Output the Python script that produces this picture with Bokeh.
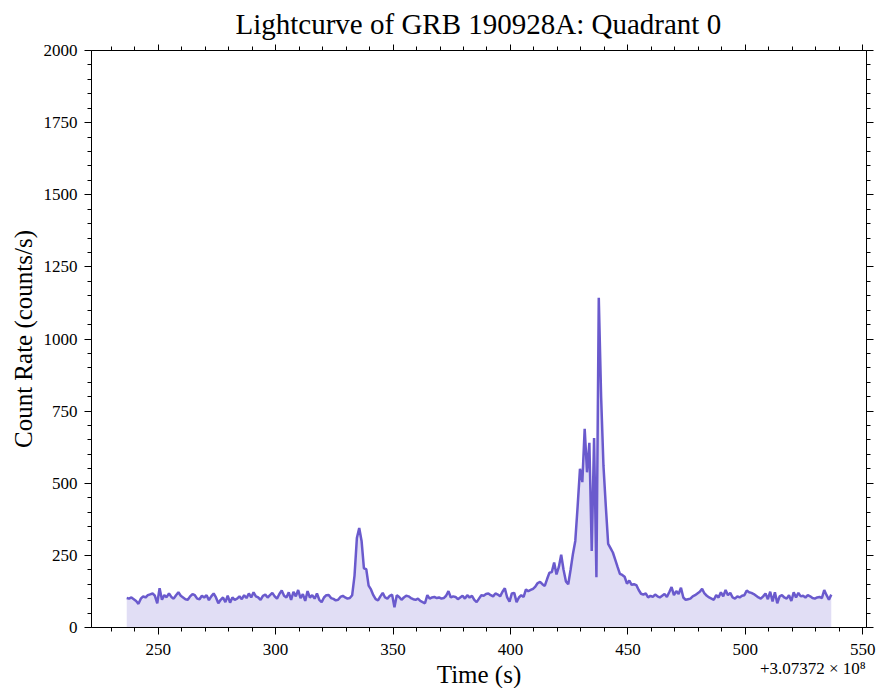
import numpy as np
from bokeh.plotting import figure
from bokeh.models import (LinearAxis, SingleIntervalTicker, Range1d, Label, ColumnDataSource,
                          CustomJSTickFormatter)
from bokeh.embed import file_html
from bokeh.resources import INLINE

# ---- data (time offsets from 3.07372e8 s, 1 s bins) ----
TIME_OFFSET = 3.07372e8
TIME_START = 236.6
BIN_WIDTH = 1.0
RATE = [
    102, 100, 104, 98, 92, 82, 100, 108, 104, 112,
    115, 118, 110, 84, 136, 96, 112, 105, 118, 106,
    100, 112, 122, 110, 104, 98, 96, 108, 116, 112,
    100, 98, 110, 104, 112, 95, 108, 118, 104, 84,
    96, 104, 88, 110, 86, 104, 96, 100, 108, 98,
    112, 102, 118, 104, 122, 108, 104, 96, 110, 114,
    104, 112, 120, 108, 100, 116, 128, 110, 104, 122,
    96, 124, 108, 130, 102, 116, 92, 126, 104, 112,
    100, 118, 96, 88, 104, 112, 113, 102, 99, 94,
    96, 106, 110, 104, 100, 102, 112, 180, 310, 345,
    300, 205, 202, 145, 132, 112, 98, 94, 108, 120,
    104, 100, 110, 114, 70, 112, 106, 96, 104, 110,
    108, 102, 98, 96, 100, 92, 88, 84, 112, 100,
    104, 106, 102, 104, 100, 102, 110, 126, 104, 108,
    106, 98, 104, 110, 100, 112, 104, 110, 96, 88,
    100, 112, 110, 116, 118, 112, 108, 118, 114, 108,
    124, 136, 104, 90, 118, 120, 88, 104, 112, 106,
    132, 126, 130, 134, 142, 154, 158, 150, 144, 168,
    190, 192, 225, 184, 210, 252, 200, 160, 150, 200,
    255, 300, 420, 550, 504, 689, 538, 640, 265, 657,
    174, 1143, 800, 560, 420, 290, 275, 260, 235, 210,
    186, 182, 176, 152, 163, 148, 150, 147, 130, 117,
    114, 118, 104,
    110, 106, 114, 108, 104, 110, 116,
    106, 122, 140, 112, 126, 116, 138, 104, 96, 98,
    100, 108, 112, 118, 124, 134, 118, 110, 104, 100,
    96, 112, 104, 122, 108, 130, 112, 120, 104, 100,
    108, 104, 110, 112, 128, 122, 120, 116, 110, 104,
    100, 108, 118, 98, 124, 90, 122, 84, 108, 112,
    104, 100, 112, 92, 122, 104, 120, 108, 110, 104,
    112, 108, 102, 100, 104, 106, 102, 130, 112, 96, 114,
]
Y_MIN, Y_MAX = 0, 2000
TITLE = "Lightcurve of GRB 190928A: Quadrant 0"
X_LABEL = "Time (s)"
Y_LABEL = "Count Rate (counts/s)"
OFFSET_TEXT = "+3.07372 \u00d7 10\u2078"

time = TIME_START + BIN_WIDTH * np.arange(len(RATE))
src = ColumnDataSource(dict(t=time, r=RATE))

COLOR = "#6A5ACD"
FONT = "Liberation Serif"

# layout geometry (pixels): axes box from (91, 50) to (866, 627)
W, H = 877, 688
BOX_L, BOX_R, BOX_T, BOX_B = 91, 866, 50, 627
FRAME_T = 44                                     # frame starts just under the title
py = (BOX_B - BOX_T) / (Y_MAX - Y_MIN)
y_lo = Y_MIN - (H - BOX_B) / py                  # frame reaches the canvas bottom
y_hi = Y_MAX + (BOX_T - FRAME_T) / py

pad = 0.05 * (time[-1] - time[0])
x_lo, x_hi = time[0] - pad, time[-1] + pad
px = (BOX_R - BOX_L) / (x_hi - x_lo)
x_ext_lo = x_lo - BOX_L / px                     # frame reaches the canvas left edge
x_ext_hi = x_hi + (W - BOX_R) / px               # ... and the right edge

p = figure(width=W, height=H, output_backend="svg", toolbar_location=None,
           x_range=Range1d(x_ext_lo, x_ext_hi), y_range=Range1d(y_lo, y_hi),
           min_border_left=0, min_border_right=0, min_border_top=FRAME_T,
           min_border_bottom=0, x_axis_location=None, y_axis_location=None)
p.background_fill_color = "white"
p.border_fill_color = "white"
p.outline_line_color = None
p.xgrid.visible = False
p.ygrid.visible = False

p.title.text = TITLE
p.title.text_font = FONT
p.title.text_font_size = "29px"
p.title.text_font_style = "normal"
p.title.align = "left"
p.title.offset = 235
p.title.text_color = "black"

p.varea(x="t", y1=0, y2="r", source=src, fill_color=COLOR, fill_alpha=0.2)
p.line(x="t", y="r", source=src, line_color=COLOR, line_width=2.5)


def make_axis(kind, show_labels, label=None):
    ax = LinearAxis()
    if kind == "x":
        ax.ticker = SingleIntervalTicker(interval=50, num_minor_ticks=5)
        ax.bounds = (x_lo, x_hi)
    else:
        ax.ticker = SingleIntervalTicker(interval=250, num_minor_ticks=5)
        ax.bounds = (Y_MIN, Y_MAX)
    ax.axis_line_color = "black"
    ax.major_tick_line_color = "black"
    ax.minor_tick_line_color = "black"
    ax.major_tick_in = 0
    ax.major_tick_out = 7
    ax.minor_tick_in = 0
    ax.minor_tick_out = 4
    ax.major_label_text_font = FONT
    ax.major_label_text_color = "black"
    ax.major_label_text_font_size = "17px"
    if show_labels:
        ax.major_label_standoff = 9 if kind == "x" else 7
        ax.axis_label = label
        ax.axis_label_text_font = FONT
        ax.axis_label_text_font_size = "25px"
        ax.axis_label_text_font_style = "normal"
        ax.axis_label_text_color = "black"
        ax.axis_label_standoff = 3
    else:
        ax.formatter = CustomJSTickFormatter(code="return '';")
        ax.major_label_standoff = 0
        ax.axis_label = None
    return ax

xb = make_axis("x", True, X_LABEL)
xb.fixed_location = Y_MIN
p.add_layout(xb, "below")
yl = make_axis("y", True, None)
yl.fixed_location = x_lo
p.add_layout(yl, "left")
xt = make_axis("x", False)
xt.fixed_location = Y_MAX
p.add_layout(xt, "above")
yr = make_axis("y", False)
yr.fixed_location = x_hi
p.add_layout(yr, "right")

# y-axis title, centred on the 0-2000 span
p.add_layout(Label(x=x_ext_lo + 23 / px, y=(Y_MIN + Y_MAX) / 2, x_units="data", y_units="data",
                   text=Y_LABEL, angle=np.pi / 2, text_font=FONT, text_font_size="25px",
                   text_align="center", text_baseline="middle", text_color="black"))

# offset text of the x axis
p.add_layout(Label(x=x_hi - 0.3, y=-142, x_units="data", y_units="data", text=OFFSET_TEXT,
                   text_font=FONT, text_font_size="17px", text_align="right",
                   text_baseline="middle", text_color="black"))

open("out.html", "w").write(file_html(p, INLINE))
